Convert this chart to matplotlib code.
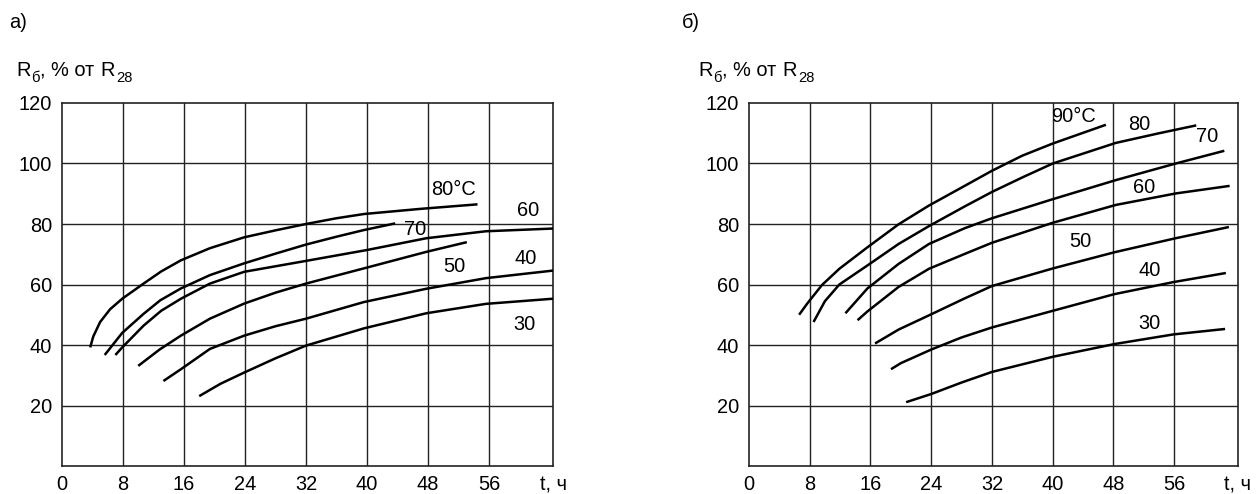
import matplotlib
matplotlib.use('Agg')
import matplotlib.pyplot as plt

plt.rcParams['font.family'] = ['Liberation Sans', 'DejaVu Sans']

# ---------------- data ----------------
x_ticks = [0, 8, 16, 24, 32, 40, 48, 56]
y_ticks = [20, 40, 60, 80, 100, 120]
x_unit_label = 't, ч'
y_label_parts = [('R', 'main'), ('б', 'sub'), (', % от', 'main'), (' ', 'space'),
                 ('R', 'main'), ('28', 'sub')]

# panel а)
a_80_t = [3.7, 4.1, 5.0, 6.3, 7.9, 10.7, 13.0, 15.6, 19.4, 23.9, 28.0, 32, 36.0, 39.6, 47, 54.5]
a_80_r = [39.2, 42.8, 47.6, 51.8, 55.3, 60.3, 64.3, 68, 72, 75.6, 77.9, 80, 81.9, 83.3, 85, 86.5]
a_70_t = [5.6, 7.9, 10.7, 12.9, 15.6, 19.4, 23.9, 28.0, 32, 36.0, 39.6, 43.7]
a_70_r = [36.7, 44, 50.3, 54.8, 58.7, 63.1, 67, 70.2, 73.2, 75.8, 78, 80.2]
a_60_t = [7.0, 7.9, 10.7, 13.0, 15.6, 19.4, 23.9, 32, 40, 47.8, 55.6, 64.4]
a_60_r = [36.7, 39.2, 46.4, 51.3, 55.3, 60.3, 64.2, 67.8, 71.4, 75.3, 77.6, 78.5]
a_50_t = [10, 12.8, 15.6, 19.4, 23.9, 28.0, 32, 40, 47.8, 53.1]
a_50_r = [33.1, 38.5, 43.1, 48.7, 53.7, 57.3, 60.3, 65.6, 70.8, 74.0]
a_40_t = [13.3, 15.6, 19.4, 23.9, 28.0, 32, 39.6, 47.8, 55.6, 64.4]
a_40_r = [28.1, 32, 38.7, 43.1, 46.2, 48.7, 54.2, 58.6, 62.1, 64.6]
a_30_t = [18, 20.8, 23.9, 28.0, 32, 39.6, 47.8, 55.6, 64.4]
a_30_r = [23.1, 27.2, 30.9, 35.6, 39.8, 45.5, 50.5, 53.6, 55.3]
a_series = [(a_80_t, a_80_r), (a_70_t, a_70_r), (a_60_t, a_60_r),
            (a_50_t, a_50_r), (a_40_t, a_40_r), (a_30_t, a_30_r)]
a_labels = ['80°C', '70', '60', '50', '40', '30']
a_label_t = [51.3, 46.3, 61.2, 51.4, 60.8, 60.7]
a_label_r = [91.3, 78.2, 84.4, 65.8, 68.6, 46.8]

# panel б)
b_90_t = [6.6, 7.7, 9.6, 11.9, 15.6, 19.7, 23.7, 28.4, 32, 36.0, 40, 47]
b_90_r = [50, 53.8, 59.8, 65.2, 72.3, 79.9, 86.1, 92.6, 97.6, 102.6, 106.6, 112.8]
b_80_t = [8.5, 10.0, 11.9, 15.6, 19.7, 23.7, 28.4, 32, 36.0, 40, 48.3, 54, 58.9]
b_80_r = [47.6, 54.5, 60.0, 66.3, 73.4, 79.3, 85.8, 90.6, 95.4, 100.0, 106.8, 110, 112.6]
b_70_t = [12.7, 15.6, 19.7, 23.7, 28.4, 32, 40, 48.3, 56.2, 62.6]
b_70_r = [50.5, 58.7, 66.8, 73.4, 78.6, 81.9, 88.2, 94.5, 100.0, 104.2]
b_60_t = [14.3, 15.6, 19.7, 23.7, 28.4, 32, 40, 48.3, 56.2, 63.3]
b_60_r = [48.2, 51.1, 59.2, 65.2, 70.1, 73.8, 80.4, 86.3, 90.1, 92.6]
b_50_t = [16.6, 19.7, 23.7, 28.4, 32, 40, 48.2, 56.2, 63.2]
b_50_r = [40.5, 45.1, 49.8, 55.4, 59.5, 65.3, 70.7, 75.3, 79.0]
b_40_t = [18.7, 20, 24, 28.0, 32, 40, 48.1, 55.9, 62.8]
b_40_r = [32, 34, 38.5, 42.5, 45.8, 51.3, 56.8, 60.8, 63.8]
b_30_t = [20.7, 24, 28.0, 32, 40, 48.1, 55.9, 62.7]
b_30_r = [21.1, 23.8, 27.6, 31.1, 36.1, 40.3, 43.5, 45.3]
b_series = [(b_90_t, b_90_r), (b_80_t, b_80_r), (b_70_t, b_70_r), (b_60_t, b_60_r),
            (b_50_t, b_50_r), (b_40_t, b_40_r), (b_30_t, b_30_r)]
b_labels = ['90°C', '80', '70', '60', '50', '40', '30']
b_label_t = [42.8, 51.4, 60.3, 52.1, 43.6, 52.8, 52.8]
b_label_r = [115.4, 112.8, 108.9, 92.2, 74.3, 64.5, 47.0]

# ---------------- figure ----------------
W, H = 1256, 494
fig = plt.figure(figsize=(W / 100, H / 100), dpi=100)
FS = 14.4
SUB_FS = FS * 0.74
XMAX = 64.4
TOP_PX, BOT_PX = 103, 466
renderer = fig.canvas.get_renderer()


def draw_ylabel(x_px, base_px):
    x = x_px
    for txt, kind in y_label_parts:
        if kind == 'space':
            x += 0.278 * FS * 100 / 72
            continue
        fs = FS if kind == 'main' else SUB_FS
        dy = 0 if kind == 'main' else 6
        t = fig.text(x / W, 1 - (base_px + dy) / H, txt, fontsize=fs,
                     ha='left', va='baseline')
        bb = t.get_window_extent(renderer)
        x += bb.width + (1 if kind == 'main' else 0)


def make_panel(left_px, right_px, series, labels, lt, lr, title, title_x, ylab_x):
    ax = fig.add_axes([left_px / W, 1 - BOT_PX / H, (right_px - left_px) / W,
                       (BOT_PX - TOP_PX) / H])
    ax.set_xlim(0, XMAX)
    ax.set_ylim(0, 120)
    for v in x_ticks[1:]:
        ax.axvline(v, color='#222222', lw=1.0, zorder=1)
    for v in y_ticks[:-1]:
        ax.axhline(v, color='#222222', lw=1.0, zorder=1)
    ax.set_xticks(x_ticks + [XMAX])
    ax.set_xticklabels([str(v) for v in x_ticks] + [x_unit_label])
    ax.set_yticks(y_ticks)
    ax.set_yticklabels([str(v) for v in y_ticks])
    ax.tick_params(axis='both', length=0, labelsize=FS, colors='black')
    ax.tick_params(axis='x', pad=6.5)
    ax.tick_params(axis='y', pad=7)
    for s in ax.spines.values():
        s.set_color('#222222')
        s.set_linewidth(1.2)
    for t, r in series:
        ax.plot(t, r, color='black', lw=1.8, solid_capstyle='butt',
                solid_joinstyle='round', zorder=3)
    for txt, x, y in zip(labels, lt, lr):
        ax.text(x, y, txt, fontsize=FS, ha='center', va='center', zorder=4)
    fig.text(title_x / W, 1 - 23 / H, title, fontsize=FS, ha='left', va='center')
    draw_ylabel(ylab_x, 76)
    return ax


make_panel(62, 553, a_series, a_labels, a_label_t, a_label_r, 'а)', 9, 16)
make_panel(749, 1238, b_series, b_labels, b_label_t, b_label_r, 'б)', 682, 698)

fig.savefig('out.png', dpi=100)
